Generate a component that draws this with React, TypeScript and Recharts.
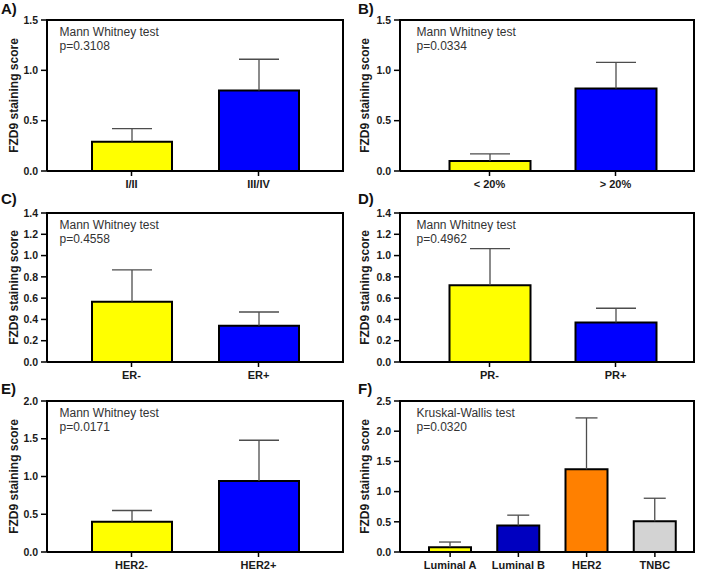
import { Bar, BarChart, Cell, XAxis, YAxis } from "recharts";

const FONT = "Arial, 'Liberation Sans', Helvetica, sans-serif";

// A) tumour stage
const stageGroups = ["I/II", "III/IV"];
const stageMeans = [0.29, 0.8];
const stageErr = [0.13, 0.31];

// B) Ki-67 index
const ki67Groups = ["< 20%", "> 20%"];
const ki67Means = [0.1, 0.82];
const ki67Err = [0.07, 0.26];

// C) ER status
const erGroups = ["ER-", "ER+"];
const erMeans = [0.565, 0.34];
const erErr = [0.3, 0.13];

// D) PR status
const prGroups = ["PR-", "PR+"];
const prMeans = [0.72, 0.37];
const prErr = [0.345, 0.135];

// E) HER2 status
const her2Groups = ["HER2-", "HER2+"];
const her2Means = [0.4, 0.94];
const her2Err = [0.15, 0.54];

// F) molecular subtype
const subtypeGroups = ["Luminal A", "Luminal B", "HER2", "TNBC"];
const subtypeMeans = [0.08, 0.44, 1.37, 0.51];
const subtypeErr = [0.085, 0.17, 0.85, 0.38];

const pairColors = ["#ffff00", "#0000ff"];
const subtypeColors = ["#ffff00", "#0000c0", "#ff8000", "#d3d3d3"];

const ticks15 = [0, 0.5, 1, 1.5];
const ticks14 = [0, 0.2, 0.4, 0.6, 0.8, 1, 1.2, 1.4];
const ticks20 = [0, 0.5, 1, 1.5, 2];
const ticks25 = [0, 0.5, 1, 1.5, 2, 2.5];

type PanelProps = {
    letter: string;
    test: string;
    pValue: string;
    groups: string[];
    means: number[];
    errs: number[];
    colors: string[];
    ticks: number[];
    plotLeft: number;
    plotTop: number;
    plotBottom: number;
    padLeft: number;
    padRight: number;
    barSize: number;
    cap: number;
    textX: number;
    letterX: number;
};

const W = 351;
const H = 191;
const RIGHT = 8;

// upper whisker: stacked on the mean, so its height is the error value
const Whisker = ({ x, y, width, height, cap }: any) => {
    const cx = x + width / 2;
    return (
        <g stroke="#4d4d4d" strokeWidth={1.3}>
            <line x1={cx} x2={cx} y1={y} y2={y + height} />
            <line x1={cx - cap} x2={cx + cap} y1={y} y2={y} />
        </g>
    );
};

const Panel = (p: PanelProps) => {
    const rows = p.groups.map((g, i) => ({
        group: g,
        mean: p.means[i],
        err: p.errs[i],
    }));
    const axisStroke = { stroke: "#000", strokeWidth: 2 };

    return (
        <div style={{ position: "relative", width: W, height: H }}>
            <BarChart
                width={W}
                height={H}
                data={rows}
                margin={{ top: p.plotTop, right: RIGHT, bottom: 0, left: 0 }}
            >
                <XAxis
                    dataKey="group"
                    height={H - p.plotBottom}
                    padding={{ left: p.padLeft, right: p.padRight }}
                    axisLine={axisStroke}
                    tickLine={{ stroke: "#000", strokeWidth: 1.5 }}
                    tickSize={5}
                    tickMargin={4}
                    interval={0}
                    tick={{ fill: "#1a1a1a", fontSize: 11, fontWeight: 700, fontFamily: FONT }}
                />
                <YAxis
                    width={p.plotLeft}
                    domain={[0, p.ticks[p.ticks.length - 1]]}
                    ticks={p.ticks}
                    interval={0}
                    allowDataOverflow
                    tickFormatter={(v: number) => v.toFixed(1)}
                    axisLine={axisStroke}
                    tickLine={{ stroke: "#000", strokeWidth: 1.5 }}
                    tickSize={6}
                    tickMargin={3}
                    tick={{ fill: "#1a1a1a", fontSize: 10.5, fontWeight: 700, fontFamily: FONT }}
                    label={{
                        value: "FZD9 staining score",
                        angle: -90,
                        position: "insideLeft",
                        offset: 13.5,
                        style: {
                            textAnchor: "middle",
                            fill: "#1a1a1a",
                            fontSize: 12,
                            fontWeight: 700,
                            fontFamily: FONT,
                        },
                    }}
                />
                <Bar
                    dataKey="mean"
                    stackId="s"
                    barSize={p.barSize}
                    stroke="#000"
                    strokeWidth={2}
                    isAnimationActive={false}
                >
                    {rows.map((r, i) => (
                        <Cell key={r.group} fill={p.colors[i]} />
                    ))}
                </Bar>
                <Bar
                    dataKey="err"
                    stackId="s"
                    barSize={p.barSize}
                    isAnimationActive={false}
                    shape={(props: any) => <Whisker {...props} cap={p.cap} />}
                />
            </BarChart>
            {/* top and right sides of the box around the plot area */}
            <div
                style={{
                    position: "absolute",
                    left: p.plotLeft - 1,
                    top: p.plotTop - 1,
                    width: W - RIGHT - p.plotLeft,
                    height: p.plotBottom - p.plotTop,
                    borderTop: "2px solid #000",
                    borderRight: "2px solid #000",
                    pointerEvents: "none",
                }}
            />
            <svg
                width={W}
                height={H}
                style={{ position: "absolute", left: 0, top: 0, pointerEvents: "none" }}
            >
                <text x={p.letterX} y={14} fontFamily={FONT} fontSize={15} fontWeight={700} fill="#111">
                    {p.letter}
                </text>
                <text x={p.textX} y={p.plotTop + 15.5} fontFamily={FONT} fontSize={12} fill="#333">
                    {p.test}
                </text>
                <text x={p.textX} y={p.plotTop + 29.5} fontFamily={FONT} fontSize={12} fill="#333">
                    {p.pValue}
                </text>
            </svg>
        </div>
    );
};

const leftCol = { plotLeft: 47, padLeft: 21, padRight: 21, barSize: 80, cap: 20, textX: 59.5, letterX: 1 };
const rightCol = { plotLeft: 49, padLeft: 26.5, padRight: 15.5, barSize: 81, cap: 20, textX: 65.5, letterX: 7 };

export default function App() {
    return (
        <div
            style={{
                position: "absolute",
                left: 0,
                top: 0,
                width: 702,
                height: 571,
                background: "#fff",
                display: "grid",
                gridTemplateColumns: `${W}px ${W}px`,
                gridTemplateRows: "190px 190px 191px",
            }}
        >
            <Panel
                {...leftCol}
                letter="A)"
                test="Mann Whitney test"
                pValue="p=0.3108"
                groups={stageGroups}
                means={stageMeans}
                errs={stageErr}
                colors={pairColors}
                ticks={ticks15}
                plotTop={20}
                plotBottom={171}
            />
            <Panel
                {...rightCol}
                letter="B)"
                test="Mann Whitney test"
                pValue="p=0.0334"
                groups={ki67Groups}
                means={ki67Means}
                errs={ki67Err}
                colors={pairColors}
                ticks={ticks15}
                plotTop={20}
                plotBottom={171}
            />
            <Panel
                {...leftCol}
                letter="C)"
                test="Mann Whitney test"
                pValue="p=0.4558"
                groups={erGroups}
                means={erMeans}
                errs={erErr}
                colors={pairColors}
                ticks={ticks14}
                plotTop={23}
                plotBottom={172}
            />
            <Panel
                {...rightCol}
                letter="D)"
                test="Mann Whitney test"
                pValue="p=0.4962"
                groups={prGroups}
                means={prMeans}
                errs={prErr}
                colors={pairColors}
                ticks={ticks14}
                plotTop={23}
                plotBottom={172}
            />
            <Panel
                {...leftCol}
                letter="E)"
                test="Mann Whitney test"
                pValue="p=0.0171"
                groups={her2Groups}
                means={her2Means}
                errs={her2Err}
                colors={pairColors}
                ticks={ticks20}
                plotTop={21}
                plotBottom={172}
            />
            <Panel
                {...rightCol}
                letter="F)"
                test="Kruskal-Wallis test"
                pValue="p=0.0320"
                groups={subtypeGroups}
                means={subtypeMeans}
                errs={subtypeErr}
                colors={subtypeColors}
                ticks={ticks25}
                plotTop={21}
                plotBottom={172}
                padLeft={16}
                padRight={5}
                barSize={42}
                cap={11}
            />
        </div>
    );
}
